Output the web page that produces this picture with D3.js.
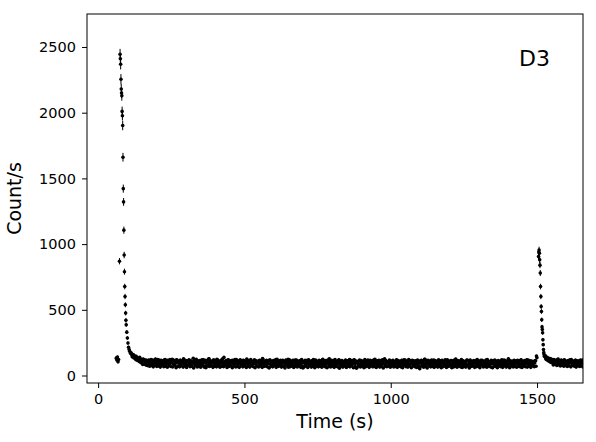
<!DOCTYPE html>
<html>
<head>
<meta charset="utf-8">
<script src="https://cdn.jsdelivr.net/npm/d3@7/dist/d3.min.js"></script>
<style>
  body { margin: 0; background: #fff; }
  text { font-family: "DejaVu Sans", sans-serif; }
</style>
</head>
<body>
<div id="viz"></div>
<script>

// light curve values (counts per second)
// first flare: time (s) and rate
var flare1Time = [62, 64, 66, 68, 70, 73, 75, 76, 77, 78, 79, 80, 81, 82, 83, 84, 85, 86, 87, 88,
                  89, 90, 91, 92, 93, 94, 95, 96, 98, 100, 102, 104, 106, 108, 110];
var flare1Rate = [132, 118, 141, 104, 122, 870, 2445, 2410, 2369, 2255, 2180, 2150, 2129, 2010, 1977, 1902, 1661, 1422, 1321, 1106,
                  917, 790, 677, 601, 538, 475, 420, 386, 330, 285, 247, 215, 197, 185, 172];

// quiescent level between the flares, one value every 3 s starting at 112 s
var quiet1Start = 112;
var quiet1Rate = [
  168, 158, 150, 156, 142, 135, 146, 128, 131, 122, 138, 117, 124, 109, 126, 112, 98, 118, 104, 96,
  113, 88, 102, 121, 94, 83, 110, 97, 126, 86, 104, 92, 117, 79, 99, 112, 87, 108, 95, 122,
  84, 101, 116, 91, 76, 107, 98, 124, 89, 111, 82, 96, 119, 103, 72, 94, 115, 88, 106, 99,
  127, 85, 93, 110, 78, 102, 118, 90, 81, 105, 96, 131, 87, 99, 114, 74, 92, 108, 101, 83,
  97, 120, 89, 104, 70, 95, 113, 86, 102, 128, 93, 79, 107, 98, 117, 84, 100, 91, 123, 88,
  105, 76, 96, 112, 101, 85, 138, 94, 109, 82, 97, 119, 90, 104, 73, 99, 115, 87, 106, 93,
  121, 84, 98, 110, 89, 103, 77, 95, 116, 92, 101, 86, 125, 97, 80, 108, 94, 112, 83, 100,
  91, 118, 87, 99, 106, 74, 96, 113, 88, 102, 130, 85, 93, 109, 79, 97, 104, 90, 117, 86,
  95, 108, 81, 100, 92, 121, 77, 98, 111, 89, 103, 84, 96, 115, 72, 94, 106, 87, 99, 124,
  83, 97, 110, 90, 76, 102, 93, 118, 85, 99, 107, 81, 95, 112, 88, 101, 58, 96, 109, 84,
  98, 116, 87, 93, 105, 79, 100, 91, 122, 86, 97, 74, 108, 94, 83, 111, 96, 89, 103, 78,
  99, 114, 85, 92, 106, 88, 127, 80, 95, 101, 90, 113, 76, 97, 87, 104, 93, 119, 82, 96,
  108, 84, 91, 100, 73, 94, 110, 86, 98, 121, 89, 79, 103, 92, 115, 85, 97, 55, 102, 90,
  112, 83, 95, 106, 88, 99, 77, 109, 93, 86, 118, 91, 101, 75, 96, 107, 84, 94, 123, 87,
  98, 81, 104, 90, 114, 79, 95, 102, 88, 127, 85, 97, 72, 100, 91, 110, 83, 96, 105, 89,
  76, 99, 92, 116, 84, 101, 88, 95, 109, 80, 93, 120, 86, 98, 74, 104, 90, 113, 82, 96,
  102, 87, 111, 78, 94, 99, 85, 107, 91, 52, 97, 115, 83, 100, 89, 124, 81, 95, 103, 88,
  93, 109, 77, 98, 86, 117, 90, 101, 82, 96, 112, 85, 94, 73, 105, 91, 99, 84, 119, 87,
  97, 80, 106, 92, 88, 114, 79, 100, 93, 85, 126, 90, 98, 76, 103, 87, 95, 110, 82, 99,
  91, 104, 86, 118, 78, 96, 89, 107, 83, 101, 92, 72, 97, 113, 85, 94, 108, 80, 99, 90,
  116, 84, 95, 102, 77, 93, 121, 88, 98, 82, 106, 91, 60, 100, 87, 112, 94, 81, 103, 96,
  85, 109, 92, 79, 99, 117, 86, 95, 104, 83, 128, 90, 97, 75, 101, 88, 111, 84, 96, 93,
  107, 80, 98, 89, 115, 86, 94, 102, 78, 100, 91, 120, 87, 96, 83, 108, 92, 99, 85, 104,
  95, 112, 148
];

// the bins in between (every 3 s starting at 113.5 s)
var quiet1StartB = 113.5;
var quiet1RateB = [
  170, 142, 160, 134, 148, 121, 139, 114, 130, 106, 124, 98, 118, 84, 120, 86, 116, 78, 114, 74,
  118, 70, 112, 76, 117, 66, 115, 79, 108, 68, 121, 73, 112, 64, 116, 77, 110, 67, 119, 71,
  106, 63, 114, 76, 122, 69, 109, 65, 117, 74, 112, 60, 118, 70, 107, 66, 115, 75, 110, 64,
  120, 72, 113, 61, 108, 78, 117, 67, 111, 71, 105, 58, 116, 75, 123, 65, 109, 69, 114, 63,
  111, 76, 119, 64, 115, 60, 106, 73, 125, 68, 112, 74, 108, 62, 117, 70, 111, 66, 120, 75,
  109, 63, 115, 71, 127, 67, 107, 77, 113, 61, 118, 69, 110, 74, 114, 59, 112, 72, 121, 65,
  116, 68, 108, 62, 119, 76, 111, 66, 114, 73, 106, 61, 117, 70, 112, 64, 122, 74, 107, 67,
  118, 60, 112, 72, 109, 65, 116, 75, 113, 62, 121, 69, 105, 73, 115, 66, 110, 58, 118, 71,
  108, 66, 114, 77, 111, 62, 124, 68, 106, 72, 116, 64, 112, 70, 109, 57, 117, 75, 113, 63,
  120, 67, 107, 73, 115, 61, 111, 71, 118, 65, 109, 76, 113, 62, 122, 69, 106, 66, 116, 72,
  110, 61, 119, 74, 108, 64, 114, 68, 111, 59, 117, 72, 106, 66, 115, 70, 110, 63, 123, 75,
  109, 66, 113, 60, 118, 71, 107, 65, 115, 73, 112, 62, 121, 69, 108, 67, 116, 56, 110, 71,
  114, 64, 106, 75, 117, 61, 111, 70, 108, 66, 115, 72, 113, 59, 119, 68, 110, 63, 107, 74,
  117, 65, 113, 71, 109, 60, 122, 67, 110, 72, 106, 62, 115, 76, 112, 66, 118, 69, 108, 61,
  112, 73, 116, 64, 108, 68, 120, 57, 111, 70, 114, 67, 105, 72, 117, 63, 110, 74, 115, 65,
  107, 69, 119, 62, 113, 71, 109, 66, 115, 60, 110, 75, 117, 67, 108, 64, 121, 70, 112, 59,
  116, 72, 106, 67, 112, 61, 118, 71, 110, 65, 114, 76, 108, 63, 124, 68, 111, 58, 115, 73,
  110, 66, 117, 69, 107, 62, 113, 74, 109, 64, 120, 70, 112, 60, 116, 67, 105, 72, 114, 61,
  119, 68, 108, 73, 114, 59, 111, 65, 117, 71, 107, 63, 113, 75, 110, 66, 122, 61, 112, 69,
  106, 64, 115, 73, 112, 58, 118, 68, 109, 72, 114, 62, 110, 67, 121, 70, 107, 60, 116, 74,
  112, 65, 108, 69, 118, 63, 114, 72, 105, 66, 115, 61, 111, 71, 117, 68, 109, 59, 114, 72,
  108, 67, 120, 62, 110, 74, 113, 64, 109, 69, 117, 60, 112, 73, 107, 65, 116, 68, 111, 63,
  115, 70, 110, 66, 119, 61, 108, 73, 114, 67, 106, 64, 117, 71, 112, 62, 110, 75, 107, 67,
  113, 70, 136
];

// second flare
var flare2Time = [1505, 1506, 1507, 1508, 1509, 1510, 1511, 1512, 1513, 1514, 1515, 1516, 1517, 1518, 1519, 1520, 1521, 1522, 1523, 1524, 1525];
var flare2Rate = [905, 940, 955, 930, 880, 840, 780, 677, 601, 525, 487, 424, 370, 350, 325, 272, 235, 197, 174, 160, 146];

// level after the second flare, every 3 s from 1527 s (and the bins in between)
var quiet2Start = 1527;
var quiet2Rate = [
  142, 128, 135, 119, 124, 112, 130, 106, 118, 99, 121, 108, 93, 115, 102, 126, 97, 110, 88, 113,
  104, 95, 119, 91, 107, 100, 84, 112, 96, 103, 122, 89, 98, 109, 93, 116, 86, 101, 95, 111,
  90, 105, 98, 118, 87, 100, 94
];
var quiet2StartB = 1528.5;
var quiet2RateB = [
  150, 122, 138, 112, 131, 104, 126, 98, 121, 80, 118, 86, 115, 76, 120, 83, 112, 73, 117, 79,
  110, 70, 116, 77, 108, 68, 114, 75, 119, 66, 111, 78, 109, 71, 115, 64, 112, 74, 107, 69,
  118, 72, 110, 65, 113, 76, 108
];
var quietStep = 3;
var binSize = 1.5;

var xTicks = [0, 500, 1000, 1500];
var yTicks = [0, 500, 1000, 1500, 2000, 2500];
var panelLabel = 'D3';

// put all the points into one list
var points = [];
function addRun(start, rates) {
  rates.forEach(function(v, i) { points.push({t: start + i * quietStep, v: v}); });
}
flare1Time.forEach(function(t, i) { points.push({t: t, v: flare1Rate[i]}); });
addRun(quiet1Start, quiet1Rate);
addRun(quiet1StartB, quiet1RateB);
flare2Time.forEach(function(t, i) { points.push({t: t, v: flare2Rate[i]}); });
addRun(quiet2Start, quiet2Rate);
addRun(quiet2StartB, quiet2RateB);

// dimensions
var W = 596, H = 442;
var margin = {left: 87, top: 14, right: 13, bottom: 59};
var plotW = W - margin.left - margin.right;
var plotH = H - margin.top - margin.bottom;

var svg = d3.select('#viz').append('svg')
  .attr('width', W)
  .attr('height', H);

var x = d3.scaleLinear().domain([-38, 1657]).range([0, plotW]);
var y = d3.scaleLinear().domain([-57, 2751]).range([plotH, 0]);

var g = svg.append('g')
  .attr('transform', 'translate(' + margin.left + ',' + margin.top + ')');

g.append('clipPath').attr('id', 'clip')
  .append('rect').attr('width', plotW).attr('height', plotH);

// data points with poisson error bars
var marks = g.append('g').attr('clip-path', 'url(#clip)');

marks.selectAll('.err')
  .data(points)
  .enter().append('line')
  .attr('class', 'err')
  .attr('x1', function(d) { return x(d.t); })
  .attr('x2', function(d) { return x(d.t); })
  .attr('y1', function(d) { return y(d.v - Math.sqrt(d.v / binSize)); })
  .attr('y2', function(d) { return y(d.v + Math.sqrt(d.v / binSize)); })
  .attr('stroke', '#000')
  .attr('stroke-width', 1);

marks.selectAll('.point')
  .data(points)
  .enter().append('circle')
  .attr('class', 'point')
  .attr('cx', function(d) { return x(d.t); })
  .attr('cy', function(d) { return y(d.v); })
  .attr('r', 1.8)
  .attr('fill', '#000');

// axes
var xAxis = g.append('g')
  .attr('transform', 'translate(0,' + plotH + ')')
  .call(d3.axisBottom(x).tickValues(xTicks).tickFormat(d3.format('d'))
    .tickSize(5).tickPadding(6).tickSizeOuter(0));

var yAxis = g.append('g')
  .call(d3.axisLeft(y).tickValues(yTicks).tickFormat(d3.format('d'))
    .tickSize(5).tickPadding(6).tickSizeOuter(0));

[xAxis, yAxis].forEach(function(a) {
  a.select('.domain').remove();
  a.selectAll('text')
    .attr('fill', '#000')
    .style('font-family', '"DejaVu Sans", sans-serif')
    .style('font-size', '14.5px');
  a.selectAll('line').attr('stroke', '#000');
});

// frame
g.append('rect')
  .attr('width', plotW)
  .attr('height', plotH)
  .attr('fill', 'none')
  .attr('stroke', '#000')
  .attr('stroke-width', 1);

// axis labels
svg.append('text')
  .attr('x', margin.left + plotW / 2)
  .attr('y', 428)
  .attr('text-anchor', 'middle')
  .style('font-size', '19px')
  .text('Time (s)');

svg.append('text')
  .attr('transform', 'translate(21,' + (margin.top + plotH / 2) + ') rotate(-90)')
  .attr('text-anchor', 'middle')
  .style('font-size', '19px')
  .text('Count/s');

// panel name
svg.append('text')
  .attr('x', 519)
  .attr('y', 66)
  .style('font-size', '22px')
  .text(panelLabel);

</script>
</body>
</html>
